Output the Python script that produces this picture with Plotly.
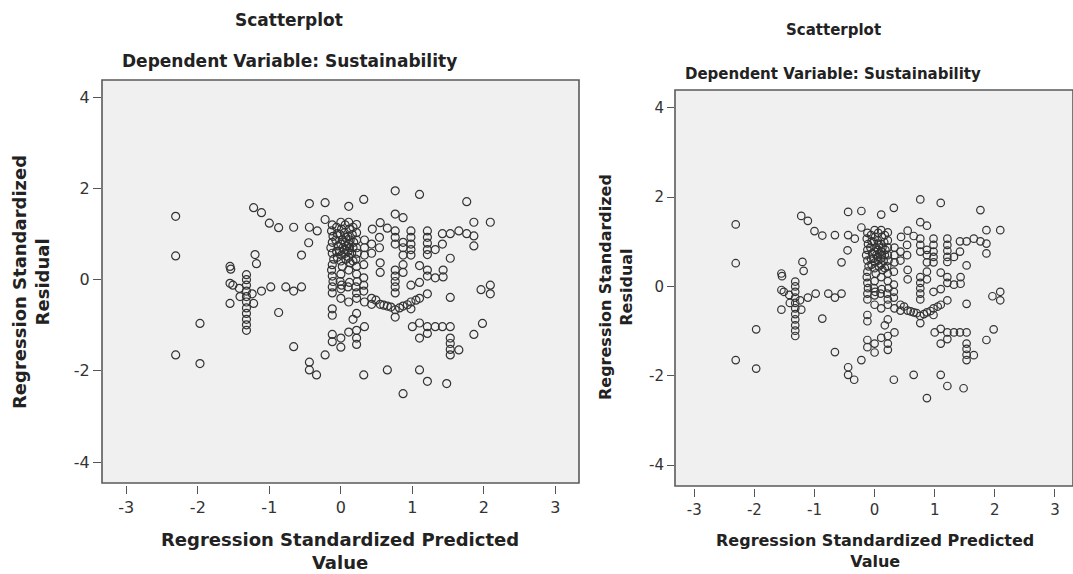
import plotly.graph_objects as go

# Regression standardized predicted value (x) and standardized residual (y)
pred = [
    -2.31, -2.31, -2.31, -1.97, -1.97,
    -1.55, -1.54, -1.55, -1.51, -1.55,
    -1.32, -1.32, -1.32, -1.32, -1.32, -1.32, -1.32, -1.32, -1.32, -1.32, -1.32,
    -1.42, -1.41, -1.22, -1.24, -1.20, -1.18,
    -1.22, -1.11, -1.00, -0.87, -0.66,
    -0.44, -0.22, -0.44, -0.33, -0.45, -0.55,
    -1.11, -0.98, -0.77, -0.66, -0.55, -0.87,
    -0.66, -0.44, -0.44, -0.34, -0.22,
    -0.22, 0.11, 0.32, 0.76, 1.10, 1.76, 1.86, 2.09, 1.86, 1.86, 1.53,
    1.42, 1.53, 1.65, 1.76, 1.42, 1.32,
    1.21, 1.21, 1.21, 1.21, 1.21,
    1.10, 1.21, 1.21, 1.43, 1.43,
    0.98, 0.98, 0.98, 0.98, 0.98,
    0.87, 0.87, 0.87, 0.87, 0.87, 0.87, 0.76,
    0.76, 0.76, 0.76,
    0.76, 0.76, 0.76, 0.76, 0.76, 0.76, 0.76,
    0.65, 0.55, 0.44, 0.54, 0.43, 0.54, 0.55, 0.55, 0.43,
    0.33, 0.33, 0.33, 0.32, 0.32, 0.32, 0.32, 0.22, 0.22, 0.22,
    0.43, 0.43, 0.55, 0.65, 0.87, 0.98, 0.98, 1.10, 1.21, 0.98, 1.10, 1.32,
    1.53, 1.96, 2.09, 2.09, 1.98, 1.86,
    1.53, 1.53, 1.53, 1.53, 1.53, 1.65,
    1.00, 1.10, 1.21, 1.32, 1.42, 1.10, 1.21,
    1.10, 1.21, 1.48, 0.87, 0.65, 0.32,
    -0.12, -0.12, 0.00, 0.00, 0.11, 0.22, 0.22, 0.22, 0.33,
    -0.12, -0.12, 0.17, 0.22, 0.00, 0.11, 0.22, 0.33,
    0.49, 0.60, 0.70, 0.82, 0.93, 1.05,
    -0.12, -0.13, -0.11, -0.12, -0.14, -0.12, -0.10, -0.12, -0.13, -0.12, -0.11, -0.12, -0.12,
    -0.06, -0.05, -0.07, -0.04, -0.06, -0.05,
    0.00, 0.01, -0.01, 0.02, 0.00, 0.03, -0.02, 0.01, 0.00, 0.02, 0.00, -0.01, 0.01, 0.00,
    0.06, 0.05, 0.07, 0.06, 0.08, 0.05, 0.06, 0.07,
    0.11, 0.12, 0.10, 0.13, 0.11, 0.12, 0.10, 0.11, 0.13, 0.11, 0.12, 0.10,
    0.17, 0.16, 0.18, 0.17, 0.15, 0.17,
    0.22, 0.23, 0.21, 0.22, 0.22, 0.23, 0.21, 0.22,
]
resid = [
    1.39, 0.52, -1.65, -0.96, -1.84,
    0.29, 0.23, -0.08, -0.12, -0.52,
    0.11, 0.00, -0.12, -0.25, -0.37, -0.49, -0.62, -0.74, -0.87, -0.99, -1.11,
    -0.19, -0.37, -0.52, -0.31, 0.55, 0.35,
    1.58, 1.47, 1.24, 1.14, 1.15,
    1.67, 1.69, 1.15, 1.07, 0.81, 0.54,
    -0.25, -0.16, -0.16, -0.25, -0.16, -0.72,
    -1.47, -1.81, -1.98, -2.09, -1.65,
    1.32, 1.61, 1.76, 1.95, 1.87, 1.71, 1.26, 1.26, 0.96, 0.74, 0.47,
    1.01, 1.01, 1.07, 1.01, 0.78, 0.66,
    1.07, 0.93, 0.80, 0.66, 0.55,
    0.31, 0.21, 0.08, 0.21, 0.06,
    1.07, 0.93, 0.78, 0.66, 0.54,
    1.36, 0.82, 0.70, 0.54, 0.33, 0.16, 1.44,
    1.07, 0.93, 0.78,
    0.21, 0.08, -0.04, -0.16, -0.29, -0.66, -0.82,
    1.13, 1.25, 1.11, 0.93, 0.78, 0.70, 0.37, 0.16, 0.58,
    0.87, 0.70, 0.54, 0.33, 0.04, -0.12, -0.25, 1.21, 1.03, 0.70,
    -0.41, -0.54, -0.54, -0.58, -0.58, -0.64, -0.49, -0.41, -0.31, -0.12, -0.06, 0.04,
    -0.39, -0.22, -0.12, -0.31, -0.96, -1.20,
    -1.03, -1.28, -1.40, -1.53, -1.65, -1.54,
    -1.03, -0.95, -1.03, -1.03, -1.03, -1.28, -1.18,
    -1.98, -2.23, -2.28, -2.50, -1.98, -2.09,
    -1.20, -1.36, -1.28, -1.48, -1.15, -1.11, -1.28, -1.42, -1.03,
    -0.64, -0.78, -0.87, -0.74, -0.41, -0.49, -0.41, -0.49,
    -0.45, -0.56, -0.60, -0.62, -0.55, -0.45,
    1.20, 1.07, 0.95, 0.82, 0.70, 0.58, 0.45, 0.33, 0.21, 0.08, -0.04, -0.16, -0.29,
    1.15, 1.01, 0.87, 0.74, 0.62, 0.49,
    1.26, 1.11, 0.99, 0.87, 0.78, 0.70, 0.62, 0.54, 0.41, 0.29, 0.12, -0.04, -0.12, -0.20,
    1.20, 1.03, 0.93, 0.82, 0.74, 0.66, 0.58, 0.45,
    1.26, 1.11, 0.95, 0.87, 0.78, 0.70, 0.62, 0.49, 0.37, 0.21, -0.06, -0.16,
    1.15, 0.99, 0.82, 0.70, 0.58, 0.41,
    0.87, 0.58, 0.45, 0.29, 0.12, -0.04, -0.16, -0.29,
]

x_ticks = [-3, -2, -1, 0, 1, 2, 3]
x_tick_labels = ["-3", "-2", "-1", "0", "1", "2", "3"]
y_ticks = [-4, -2, 0, 2, 4]
y_tick_labels = ["-4", "-2", "0", "2", "4"]
title_text = "Scatterplot"
subtitle_text = "Dependent Variable: Sustainability"
x_title = "Regression Standardized Predicted<br>Value"
y_title = "Regression Standardized<br>Residual"

W, H = 1073, 574
FONT = "DejaVu Sans"
INK = "#333333"


def px(x):
    return x / W


def py(y):
    return 1 - y / H


fig = go.Figure()
marker = dict(symbol="circle-open", color="#333333", line=dict(width=1.2))
fig.add_trace(go.Scatter(x=pred, y=resid, mode="markers", xaxis="x", yaxis="y",
                         marker=dict(marker, size=8), showlegend=False, hoverinfo="skip"))
fig.add_trace(go.Scatter(x=pred, y=resid, mode="markers", xaxis="x2", yaxis="y2",
                         marker=dict(marker, size=7.5), showlegend=False, hoverinfo="skip"))

# panel geometry (pixels): left box and right box
L = dict(x0=102, x1=579, y0=80, y1=483)
R = dict(x0=675, x1=1073, y0=90, y1=486)

common_axis = dict(showgrid=False, zeroline=False, showline=False, ticks="outside",
                   tickcolor="#555555", tickwidth=1.2, color=INK)

fig.update_layout(
    width=W, height=H, margin=dict(l=0, r=0, t=0, b=0),
    paper_bgcolor="white", plot_bgcolor="#f0f0f0",
    xaxis=dict(common_axis, domain=[px(L["x0"]), px(L["x1"])], range=[-3.34, 3.33],
               tickvals=x_ticks, ticktext=x_tick_labels, ticklen=8, anchor="free",
               position=py(L["y1"] + 2),
               tickfont=dict(family=FONT, size=16, color=INK)),
    yaxis=dict(common_axis, domain=[py(L["y1"]), py(L["y0"])], range=[-4.46, 4.38],
               tickvals=y_ticks, ticktext=y_tick_labels, ticklen=8, anchor="x",
               tickfont=dict(family=FONT, size=16, color=INK)),
    xaxis2=dict(common_axis, domain=[px(R["x0"]), 1.0], range=[-3.32, 3.30],
                tickvals=x_ticks, ticktext=x_tick_labels, ticklen=8, anchor="free",
                position=py(R["y1"] + 2),
                tickfont=dict(family=FONT, size=15, color=INK)),
    yaxis2=dict(common_axis, domain=[py(R["y1"]), py(R["y0"])], range=[-4.47, 4.40],
                tickvals=y_ticks, ticktext=y_tick_labels, ticklen=7, anchor="x2",
                tickfont=dict(family=FONT, size=15, color=INK)),
)

# plot frames
for xr, yr in (("x domain", "y domain"), ("x2 domain", "y2 domain")):
    fig.add_shape(type="rect", xref=xr, yref=yr, x0=0, x1=1, y0=0, y1=1,
                  line=dict(color="#5a5a5a", width=1.6), fillcolor="rgba(0,0,0,0)",
                  layer="above")


def label(text, x, y, size, angle=0):
    fig.add_annotation(text=text, x=px(x), y=py(y), xref="paper", yref="paper",
                       showarrow=False, textangle=angle, xanchor="center", yanchor="middle",
                       font=dict(family=FONT, size=size, color="#222222"))


# left panel texts
label("<b>%s</b>" % title_text, 289, 20, 17)
label("<b>%s</b>" % subtitle_text, 289, 61, 17)
label("<b>%s</b>" % x_title, 340, 551, 18)
label("<b>%s</b>" % y_title, 31, 282, 18, angle=-90)

# right panel texts
label("<b>%s</b>" % title_text, 833, 30, 15)
label("<b>%s</b>" % subtitle_text, 833, 74, 15)
label("<b>%s</b>" % x_title, 875, 551, 16)
label("<b>%s</b>" % y_title, 616, 287, 16, angle=-90)

fig.write_html("out.html")
